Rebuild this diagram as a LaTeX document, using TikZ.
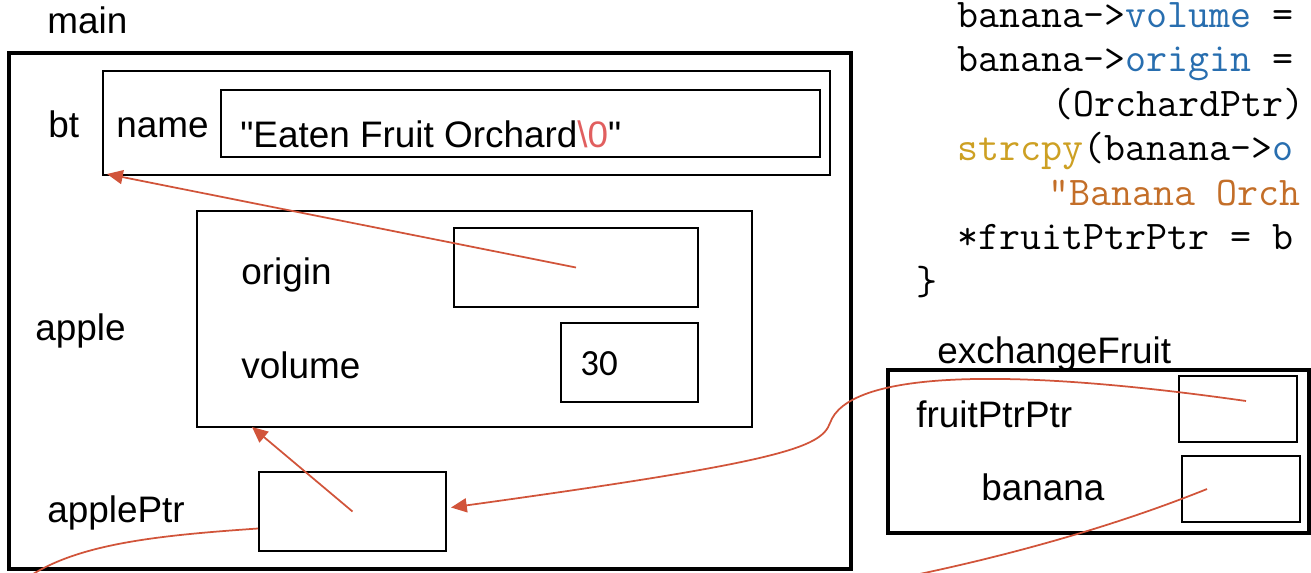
\documentclass[tikz,border=0pt]{standalone}
\usepackage{fontspec}
\setmainfont{Liberation Sans}[Ligatures=TeXOff]
\newfontfamily\numfont{Carlito}
\usetikzlibrary{arrows.meta,calc,fit}
\definecolor{linkred}{RGB}{209,84,58}
\definecolor{kwblue}{RGB}{40,110,175}
\definecolor{fngold}{RGB}{205,160,35}
\definecolor{strorange}{RGB}{195,110,40}
\definecolor{nulred}{RGB}{225,95,95}
\tikzset{
	frame/.style={draw, line width=0.08cm, inner sep=0pt},
	cell/.style={draw, line width=0.04cm, inner sep=0pt},
	lbl/.style={anchor=base west, inner sep=0pt, font=\fontsize{21}{25}\selectfont},
	code/.style={anchor=base west, inner sep=0pt, font=\ttfamily\fontsize{23.2}{27}\selectfont},
	link/.style={draw=linkred, line width=0.035cm},
	tip/.style={-{Triangle[length=9pt,width=8pt]}}
}

\begin{document}
\begin{tikzpicture}[x=0.02cm, y=-0.02cm]
	\useasboundingbox (0,0) rectangle (1311,572);
	\clip (0,0) rectangle (1311,572);

	% Stackframe main
	\node[frame, fit={(9,53) (851,569)}] (mainFrame) {};
	\node[lbl] (mainLbl) at (47,33) {main};

	% bt mit name
	\node[cell, fit={(103,71) (830,175)}] (btBox) {};
	\node[lbl] (btLbl) at (48,137) {bt};
	\node[lbl] (nameLbl) at (116,137) {name};
	\node[cell, fit={(221,90) (820,157)}] (nameBox) {};
	\node[lbl] (nameVal) at (240,147) {"Eaten Fruit Orchard\textcolor{nulred}{\textbackslash 0}"};

	% apple mit origin und volume
	\node[cell, fit={(197,211) (752,427)}] (appleBox) {};
	\node[lbl] (appleLbl) at (35,340) {apple};
	\node[lbl] (originLbl) at (241,284) {origin};
	\node[cell, fit={(454,228) (698,307)}] (originBox) {};
	\node[lbl] (volumeLbl) at (241,378) {volume};
	\node[cell, fit={(561,323) (698,402)}] (volumeBox) {};
	\node[lbl, font=\numfont\fontsize{21}{25}\selectfont] (volumeVal) at (580,375) {30};

	% applePtr
	\node[lbl] (applePtrLbl) at (47,522) {applePtr};
	\node[cell, fit={(259,472) (446,551)}] (applePtrBox) {};

	% Stackframe exchangeFruit
	\node[frame, fit={(888,370) (1309,533)}] (exFrame) {};
	\node[lbl] (exLbl) at (937,363) {exchangeFruit};
	\node[lbl] (fruitPtrPtrLbl) at (916,427) {fruitPtrPtr};
	\node[cell, fit={(1179,376) (1297,442)}] (fruitPtrPtrBox) {};
	\node[lbl] (bananaLbl) at (981,500) {banana};
	\node[cell, fit={(1182,456) (1300,522)}] (bananaBox) {};

	% Code
	\node[code] (c1) at (957,27) {banana->\textcolor{kwblue}{volume} =};
	\node[code] (c2) at (957,71.5) {banana->\textcolor{kwblue}{origin} =};
	\node[code] (c3) at (1052,116) {(OrchardPtr)};
	\node[code] (c4) at (957,160.5) {\textcolor{fngold}{strcpy}(banana->\textcolor{kwblue}{o}};
	\node[code] (c5) at (1048,205) {\textcolor{strorange}{"Banana Orch}};
	\node[code] (c6) at (957,249.5) {*fruitPtrPtr = b};
	\node[code] (c7) at (916,294) {\}};

	% Zeiger
	\coordinate (offLeft) at (12,590);
	\coordinate (offMid) at (880,582);
	\draw[link, tip] (originBox.center) -- ($(btBox.south west)+(5,-2)$);
	\draw[link, tip] (applePtrBox.center) -- ($(appleBox.south west)+(56,-1)$);
	\draw[link, tip] ($(fruitPtrPtrBox.center)+(8,-8)$)
		.. controls (1000,366) and (848,372) .. (830,423)
		.. controls (821,448) and (780,462) .. ($(applePtrBox.east)+(4,-4)$);
	\draw[link] ($(bananaBox.center)+(-34,0)$) .. controls (1130,520) and (1020,555) .. (offMid);
	\draw[link] ($(applePtrBox.west)+(0,17)$) .. controls (150,536) and (60,545) .. (offLeft);
\end{tikzpicture}
\end{document}
